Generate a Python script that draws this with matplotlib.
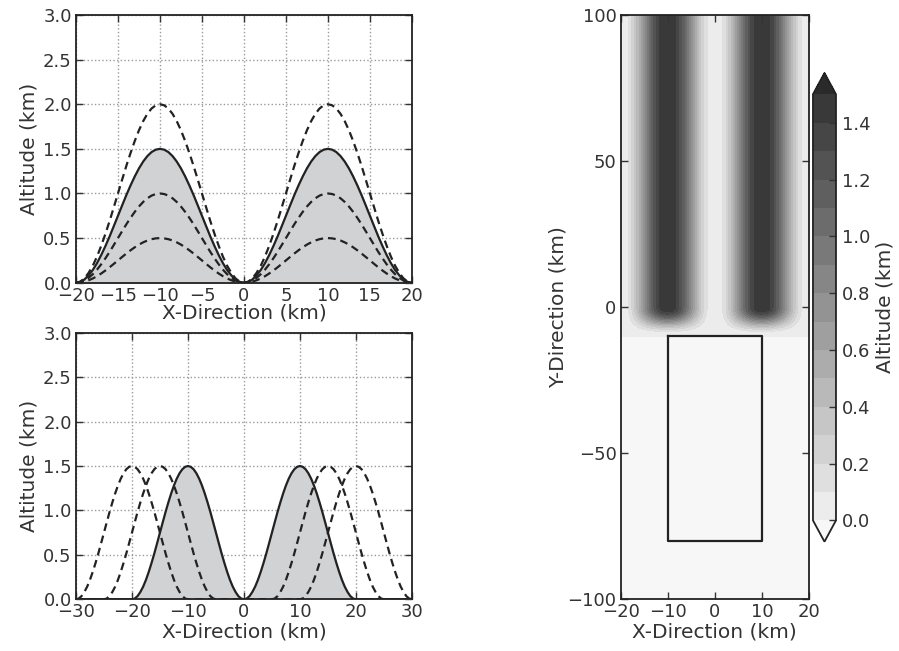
import numpy as np
import matplotlib
matplotlib.use("Agg")
import matplotlib.pyplot as plt
from matplotlib.colors import ListedColormap, to_rgb

# shape of one hill, read every 0.5 km from crest (0) to foot (10 km), as a fraction of its peak
hill_offset_km = [0.0, 0.5, 1.0, 1.5, 2.0, 2.5, 3.0, 3.5, 4.0, 4.5, 5.0,
                  5.5, 6.0, 6.5, 7.0, 7.5, 8.0, 8.5, 9.0, 9.5, 10.0]
hill_shape = [1.000, 0.994, 0.976, 0.946, 0.905, 0.854, 0.794, 0.727, 0.655, 0.578, 0.500,
              0.422, 0.345, 0.273, 0.206, 0.146, 0.095, 0.055, 0.024, 0.006, 0.000]

# top panel: two hills, solid (filled) one plus three dashed heights
top_centers = [-10, 10]
top_solid_height = 1.5
top_dashed_heights = [2.0, 1.0, 0.5]

# bottom panel: same height, hills moved apart
bottom_height = 1.5
bottom_solid_centers = [-10, 10]
bottom_dashed_centers = [[-15, 15], [-20, 20]]

# right panel: two ridges along y that die out south of y = 0
ridge_centers = [-10, 10]
ridge_height = 1.5
ridge_end_y = [-10.0, -9.5, -9.0, -8.5, -8.0, -7.5, -7.0, -6.5, -6.0, -5.5, -5.0,
               -4.5, -4.0, -3.5, -3.0, -2.5, -2.0, -1.5, -1.0, -0.5, 0.0]
ridge_end_taper = [0.000, 0.006, 0.024, 0.055, 0.095, 0.146, 0.206, 0.273, 0.345, 0.422, 0.500,
                   0.578, 0.655, 0.727, 0.794, 0.854, 0.905, 0.946, 0.976, 0.994, 1.000]

box_x = [-10, 10, 10, -10, -10]
box_y = [-10, -10, -80, -80, -10]

cbar_levels = [0.0, 0.1, 0.2, 0.3, 0.4, 0.5, 0.6, 0.7, 0.8, 0.9, 1.0, 1.1, 1.2, 1.3, 1.4, 1.5]
cbar_ticks = [0.0, 0.2, 0.4, 0.6, 0.8, 1.0, 1.2, 1.4]

TEXT = '#333333'
FILL = '#d1d2d4'
DASH = (0, (3.5, 2.2))
LABEL_SIZE = 14.5

plt.rcParams['font.family'] = 'DejaVu Sans'
plt.rcParams['font.size'] = 13
plt.rcParams['text.color'] = TEXT
plt.rcParams['axes.labelcolor'] = TEXT
plt.rcParams['axes.labelsize'] = LABEL_SIZE
plt.rcParams['xtick.color'] = TEXT
plt.rcParams['ytick.color'] = TEXT
plt.rcParams['axes.edgecolor'] = '#222222'
plt.rcParams['axes.linewidth'] = 1.3


def hill_pair(centers, height, x_min, x_max):
    off = np.array(hill_offset_km)
    shp = np.array(hill_shape) * height
    xs, zs = [], []
    for c in centers:
        xs.append(c - off[::-1])
        zs.append(shp[::-1])
        xs.append(c + off[1:])
        zs.append(shp[1:])
    x = np.concatenate(xs)
    z = np.concatenate(zs)
    if x[0] > x_min:
        x = np.r_[x_min, x]
        z = np.r_[0.0, z]
    if x[-1] < x_max:
        x = np.r_[x, x_max]
        z = np.r_[z, 0.0]
    return x, z


def style(ax):
    ax.tick_params(direction='in', top=True, right=True, length=5, width=1, pad=3)
    ax.grid(True, linestyle=':', color='#9a9a9a', linewidth=1.0)
    ax.set_axisbelow(True)


fig = plt.figure(figsize=(8.99, 6.51), dpi=100)

# ---- top left
ax1 = fig.add_axes([0.0845, 0.5657, 0.3737, 0.4113])
x, z = hill_pair(top_centers, top_solid_height, -20, 20)
ax1.fill_between(x, 0, z, color=FILL, zorder=1)
ax1.plot(x, z, color='#222222', lw=1.6, zorder=3)
for h in top_dashed_heights:
    xd, zd = hill_pair(top_centers, h, -20, 20)
    ax1.plot(xd, zd, color='#222222', lw=1.6, linestyle=DASH, zorder=3)
ax1.set_xlim(-20, 20)
ax1.set_ylim(0, 3)
ax1.set_xticks(np.arange(-20, 21, 5))
ax1.set_yticks(np.arange(0, 3.01, 0.5))
ax1.yaxis.set_major_formatter(matplotlib.ticker.FormatStrFormatter('%.1f'))
ax1.set_xlabel('X-Direction (km)', labelpad=-1)
ax1.set_ylabel('Altitude (km)', labelpad=3)
style(ax1)

# ---- bottom left
ax2 = fig.add_axes([0.0845, 0.0794, 0.3737, 0.4095])
x, z = hill_pair(bottom_solid_centers, bottom_height, -30, 30)
ax2.fill_between(x, 0, z, color=FILL, zorder=1)
ax2.plot(x, z, color='#222222', lw=1.6, zorder=3)
for cs in bottom_dashed_centers:
    xd, zd = hill_pair(cs, bottom_height, -30, 30)
    ax2.plot(xd, zd, color='#222222', lw=1.6, linestyle=DASH, zorder=3)
ax2.set_xlim(-30, 30)
ax2.set_ylim(0, 3)
ax2.set_xticks(np.arange(-30, 31, 10))
ax2.set_yticks(np.arange(0, 3.01, 0.5))
ax2.yaxis.set_major_formatter(matplotlib.ticker.FormatStrFormatter('%.1f'))
ax2.set_xlabel('X-Direction (km)', labelpad=1)
ax2.set_ylabel('Altitude (km)', labelpad=3)
style(ax2)

# ---- right: plan view of the ridges
ax3 = fig.add_axes([0.6904, 0.0794, 0.2095, 0.8976])
xr, zr = hill_pair(ridge_centers, ridge_height, -20, 20)
xr, idx = np.unique(xr, return_index=True)
zr = zr[idx]
yr = np.r_[-100.0, ridge_end_y, 100.0]
taper = np.r_[0.0, ridge_end_taper, 1.0]
Z = np.outer(taper, zr)

n_bins = len(cbar_levels) - 1
c0 = np.array(to_rgb('#ececec'))
c1 = np.array(to_rgb('#393939'))
cmap = ListedColormap([c0 + (c1 - c0) * i / (n_bins - 1) for i in range(n_bins)])
cmap.set_under('#f7f7f7')
cmap.set_over('#2a2a2a')

cf = ax3.contourf(xr, yr, Z, levels=cbar_levels, cmap=cmap, extend='both')
ax3.plot(box_x, box_y, color='#222222', lw=1.6)
ax3.set_xlim(-20, 20)
ax3.set_ylim(-100, 100)
ax3.set_xticks([-20, -10, 0, 10, 20])
ax3.set_yticks([-100, -50, 0, 50, 100])
ax3.set_xlabel('X-Direction (km)', labelpad=1)
ax3.set_ylabel('Y-Direction (km)', labelpad=0)
ax3.tick_params(direction='in', top=True, right=True, length=5, width=1, pad=3)

cax = fig.add_axes([0.9043, 0.1679, 0.0256, 0.72])
cb = fig.colorbar(cf, cax=cax, ticks=cbar_ticks)
cb.ax.yaxis.set_major_formatter(matplotlib.ticker.FormatStrFormatter('%.1f'))
cb.ax.tick_params(direction='in', length=5, width=1, pad=4)
cb.outline.set_edgecolor('#222222')
cb.outline.set_linewidth(1.3)
cb.set_label('Altitude (km)', labelpad=4, fontsize=LABEL_SIZE)

fig.savefig('out.png', dpi=100)
